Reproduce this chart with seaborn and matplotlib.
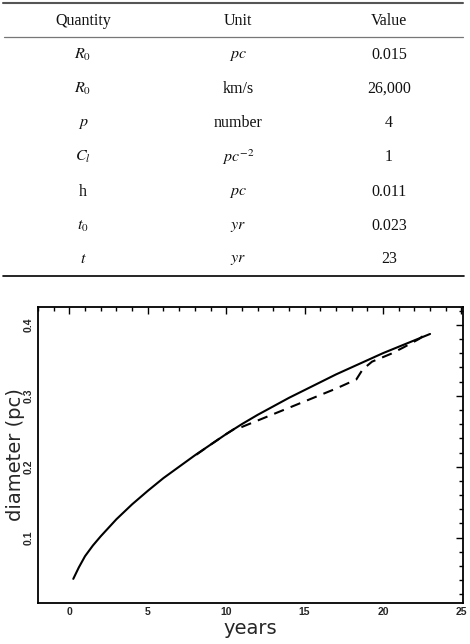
"""Parameter table and diameter-vs-time curve."""

import matplotlib
matplotlib.use("Agg")
import matplotlib.pyplot as plt
from matplotlib.ticker import MultipleLocator
import pandas as pd
import seaborn as sns


# table contents
QUANTITIES = [r"$R_0$", r"$R_0$", r"$p$", r"$C_l$", "h", r"$t_0$", r"$t$"]
UNITS = [r"$pc$", "km/s", "number", r"$pc^{-2}$", r"$pc$", r"$yr$", r"$yr$"]
VALUES = ["0.015", "26,000", "4", "1", "0.011", "0.023", "23"]
HEADERS = ["Quantity", "Unit", "Value"]

# model curve (solid)
MODEL_YEARS = [0.25, 0.6, 1, 1.5, 2, 2.5, 3, 4, 5, 6, 7, 8, 9, 10, 11, 12, 13,
               14, 15, 16, 17, 18, 19, 20, 21, 22, 23]
MODEL_DIAM = [0.042, 0.058, 0.074, 0.089, 0.102, 0.114, 0.126, 0.147, 0.166,
              0.184, 0.200, 0.216, 0.231, 0.246, 0.260, 0.273, 0.285, 0.297,
              0.308, 0.319, 0.330, 0.340, 0.350, 0.360, 0.369, 0.378, 0.387]

# observed curve (dashed)
OBS_YEARS = [8.1, 9.0, 10.0, 10.5, 11.0, 12, 13, 14, 15, 16, 17, 18.3, 18.7,
             19.3, 20.5, 21.3, 22.3, 22.9]
OBS_DIAM = [0.217, 0.231, 0.246, 0.253, 0.256, 0.265, 0.274, 0.283, 0.292,
            0.301, 0.310, 0.323, 0.337, 0.348, 0.359, 0.368, 0.380, 0.390]

X_TICKS = [0, 5, 10, 15, 20, 25]
Y_TICKS = [0.1, 0.2, 0.3, 0.4]


def draw_table(fig):
    ax = fig.add_axes([0, 0, 1, 1])
    ax.set_xlim(0, 470)
    ax.set_ylim(644, 0)
    ax.axis("off")
    ax.patch.set_alpha(0)

    col_x = [83, 238, 389]
    ax.plot([3, 463], [3, 3], color="#555", lw=1.5)
    ax.plot([4, 463], [37, 37], color="#777", lw=0.9)
    ax.plot([3, 464], [276, 276], color="black", lw=1.2)

    font = {"family": "Liberation Serif", "fontsize": 11.5, "color": "#111"}
    for x, h in zip(col_x, HEADERS):
        ax.text(x, 21, h, ha="center", va="center", **font)
    row_y = [55, 89, 123, 157, 192, 226, 259]
    for y, q, u, v in zip(row_y, QUANTITIES, UNITS, VALUES):
        ax.text(col_x[0], y, q, ha="center", va="center", **font)
        ax.text(col_x[1], y, u, ha="center", va="center", **font)
        ax.text(col_x[2], y, v, ha="center", va="center", **font)


def draw_plot(fig):
    ax = fig.add_axes([38 / 470, 1 - 603 / 644, 425 / 470, 296 / 644])
    model = pd.DataFrame({"years": MODEL_YEARS, "diameter": MODEL_DIAM})
    obs = pd.DataFrame({"years": OBS_YEARS, "diameter": OBS_DIAM})
    sns.lineplot(data=model, x="years", y="diameter", color="black", lw=1.5, ax=ax)
    sns.lineplot(data=obs, x="years", y="diameter", color="black", lw=1.5,
                 ax=ax, linestyle=(0, (5, 3.5)))

    ax.set_xlim(-2, 25.1)
    ax.set_ylim(0.008, 0.425)
    tick_font = {"fontweight": "bold", "fontfamily": "Liberation Sans", "fontsize": 7.5}
    ax.set_xticks(X_TICKS, [str(v) for v in X_TICKS], **tick_font)
    ax.set_yticks(Y_TICKS, [f"{v:.1f}" for v in Y_TICKS], rotation=90,
                  va="center", **tick_font)
    ax.xaxis.set_minor_locator(MultipleLocator(1))
    ax.yaxis.set_minor_locator(MultipleLocator(0.02))
    ax.tick_params(which="both", direction="in", top=True, right=True, width=1.0,
                   pad=3, color="black")
    ax.tick_params(which="major", length=5)
    ax.tick_params(which="minor", length=3)
    for s in ax.spines.values():
        s.set_linewidth(1.3)
        s.set_color("black")

    ax.set_xlabel("years", fontsize=14, family="DejaVu Sans", labelpad=1)
    ax.set_ylabel("diameter (pc)", fontsize=14, family="DejaVu Sans", labelpad=-0.5)
    ax.grid(False)


def main():
    sns.set_theme(style="white")
    plt.rcParams["font.family"] = ["Liberation Serif", "DejaVu Sans"]
    plt.rcParams["mathtext.fontset"] = "stix"

    fig = plt.figure(figsize=(4.7, 6.44), dpi=100)
    draw_table(fig)
    draw_plot(fig)
    fig.savefig("out.png", dpi=100)
    plt.close(fig)


if __name__ == "__main__":
    main()
